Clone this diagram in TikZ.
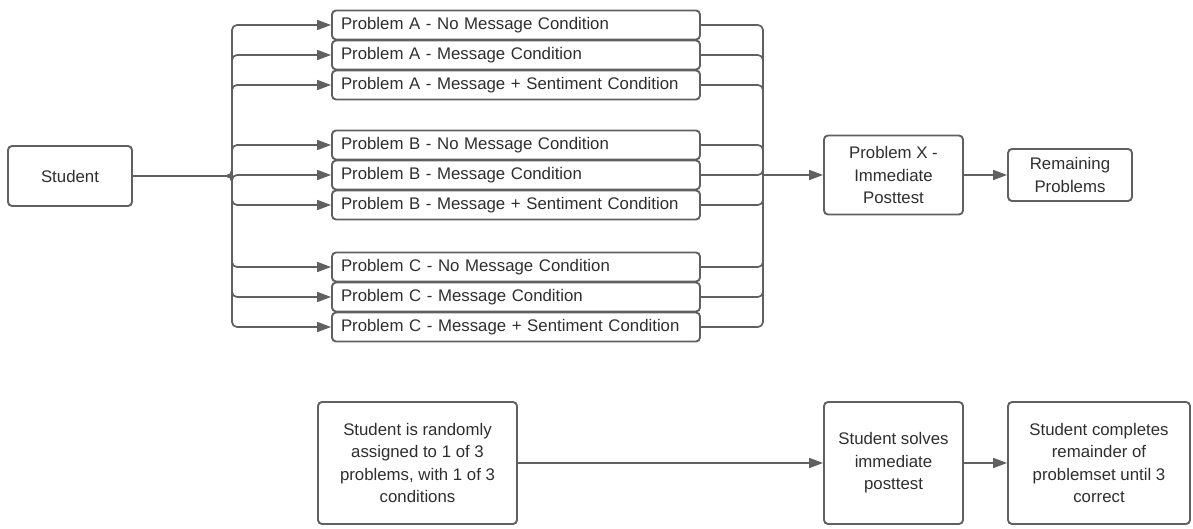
\documentclass[tikz,border=0pt]{standalone}
\usepackage{fontspec}
\setmainfont{Liberation Sans}
\usetikzlibrary{arrows.meta}
\definecolor{ln}{HTML}{606060}
\definecolor{tx}{HTML}{2E2E2E}
\begin{document}
\begin{tikzpicture}[x=1pt,y=-1pt,
  box/.style={draw=ln,line width=1.9pt,rounded corners=4pt,text=tx,font=\fontsize{16.8}{22.5}\selectfont,align=center,inner sep=0pt},
  pbox/.style={box,minimum width=368pt,minimum height=29pt,text width=350pt,align=left},
  conn/.style={draw=ln,line width=1.7pt,rounded corners=5pt},
  arr/.style={conn,-{Triangle[length=14pt,width=10pt]}}]
\useasboundingbox (0,0) rectangle (1193,529);
\node[box,minimum width=124pt,minimum height=60pt] (st) at (70,176) {Student};
\node[pbox] (a1) at (516,25) {Problem A - No Message Condition};
\node[pbox] (a2) at (516,55) {Problem A - Message Condition};
\node[pbox] (a3) at (516,85) {Problem A - Message + Sentiment Condition};
\node[pbox] (b1) at (516,145) {Problem B - No Message Condition};
\node[pbox] (b2) at (516,175) {Problem B - Message Condition};
\node[pbox] (b3) at (516,205) {Problem B - Message + Sentiment Condition};
\node[pbox] (c1) at (516,267) {Problem C - No Message Condition};
\node[pbox] (c2) at (516,297) {Problem C - Message Condition};
\node[pbox] (c3) at (516,327) {Problem C - Message + Sentiment Condition};
\node[box,minimum width=139pt,minimum height=79pt] (px) at (893.5,175) {Problem X -\\Immediate\\Posttest};
\node[box,minimum width=124pt,minimum height=52pt] (rem) at (1070,175) {Remaining\\Problems};
\coordinate (lt) at (232,176);
\coordinate (rt) at (763,175);
\foreach \n in {a1,a2,a3,b1,b2,b3,c1,c2,c3}{
  \draw[arr] (st.east) -- (lt) |- (\n.west);
  \draw[conn] (\n.east) -| (rt);
}
\draw[arr] (rt) -- (px.west);
\draw[arr] (px.east) -- (rem.west);
\node[box,minimum width=199pt,minimum height=122pt] (s1) at (417.5,463) {Student is randomly\\assigned to 1 of 3\\problems, with 1 of 3\\conditions};
\node[box,minimum width=139pt,minimum height=122pt] (s2) at (893.5,463) {Student solves\\immediate\\posttest};
\node[box,minimum width=182pt,minimum height=122pt] (s3) at (1099,463) {Student completes\\remainder of\\problemset until 3\\correct};
\draw[arr] (s1.east) -- (s2.west);
\draw[arr] (s2.east) -- (s3.west);
\end{tikzpicture}
\end{document}
